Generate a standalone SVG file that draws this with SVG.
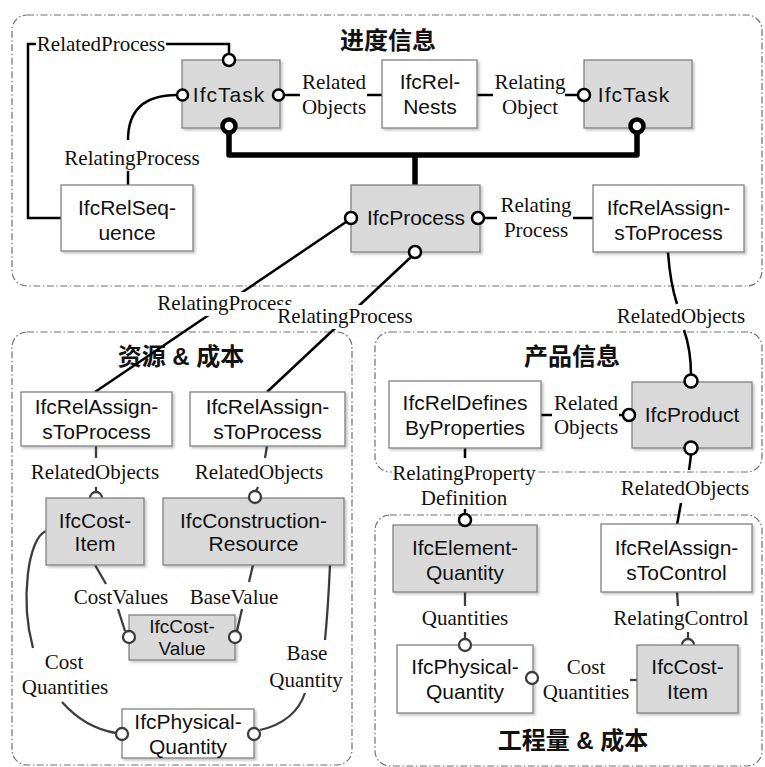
<svg xmlns="http://www.w3.org/2000/svg" width="765" height="767" viewBox="0 0 765 767">
<style>
.cont{fill:none;stroke:#6e6e6e;stroke-width:1.2;stroke-dasharray:7 2.5 1.5 2.5}
.g{fill:#d9d9d9;stroke:#808080;stroke-width:1.3;filter:url(#sh)}
.w{fill:#fff;stroke:#808080;stroke-width:1.3;filter:url(#sh)}
.t{font-family:"Liberation Sans",Arial,sans-serif;font-size:21px;text-anchor:middle;fill:#111}
.l{font-family:"Liberation Serif","Times New Roman",serif;font-size:21px;text-anchor:middle;fill:#111}
.h{font-family:"Liberation Sans","Noto Sans CJK SC",sans-serif;font-size:24px;font-weight:bold;text-anchor:middle;fill:#111}
.c{fill:none;stroke:#000;stroke-width:2.5}
.cg{fill:none;stroke:#3c3c3c;stroke-width:2.3}
.o{fill:#fff;stroke:#000;stroke-width:2.5}
.og{fill:#fff;stroke:#3c3c3c;stroke-width:2.3}
.ob{fill:#fff;stroke:#000;stroke-width:4.5}
.thick{fill:none;stroke:#000;stroke-width:5.5;stroke-linejoin:round}
</style>
<defs>
<filter id="sh" x="-10%" y="-10%" width="130%" height="130%">
<feDropShadow dx="2" dy="2" stdDeviation="1.2" flood-color="#000" flood-opacity="0.22"/>
</filter>
</defs>
<rect width="765" height="767" fill="#fff"/>

<g id="containers">
<rect class="cont" x="12" y="15" width="750" height="271" rx="15"/>
<rect class="cont" x="375" y="332" width="387" height="140" rx="15"/>
<rect class="cont" x="375" y="515" width="387" height="251" rx="15"/>
<rect class="cont" x="12" y="332" width="340" height="433" rx="15"/>
<text class="h" x="388" y="49">进度信息</text>
<text class="h" x="572" y="365">产品信息</text>
<text class="h" x="181" y="365">资源 &amp; 成本</text>
<text class="h" x="573" y="749">工程量 &amp; 成本</text>
</g>

<g id="connectors">
<path class="c" d="M229,54 V44 H166"/>
<path class="c" d="M36,44 H28 V218 H61"/>
<path class="c" d="M177,95 C146,95 128,108 128,140"/>
<path class="c" d="M128,171 V185"/>
<path class="c" d="M284,95 H300"/>
<path class="c" d="M367,95 H382"/>
<path class="c" d="M477,95 H493"/>
<path class="c" d="M565,95 H578"/>
<path class="thick" d="M229,133 V155 H637 V134"/>
<path class="thick" d="M415,155 V185"/>
<path class="c" d="M484,218 H497"/>
<path class="c" d="M573,218 H593"/>
<path class="c" d="M668,252 Q670,282 677,304"/>
<path class="c" d="M684,330 Q691,350 691,375"/>
<path class="c" d="M346,222 L95,392"/>
<path class="c" d="M411,257 L267,392"/>
<path class="c" d="M541,415 H552"/>
<path class="c" d="M619,415 H623"/>
<path class="c" d="M465,448 V458"/>
<path class="c" d="M465,509 V514"/>
<path class="c" d="M691,454 Q690,464 689,470"/>
<path class="c" d="M681,503 L677,525"/>
<path class="cg" d="M465,592 V606"/>
<path class="cg" d="M465,632 V639"/>
<path class="cg" d="M630,680 H637"/>
<path class="cg" d="M688,639 V632"/>
<path class="cg" d="M677,592 L678,606"/>
<path class="cg" d="M96,446 V458"/>
<path class="cg" d="M96,487 V492"/>
<path class="cg" d="M267,446 L265,458"/>
<path class="cg" d="M258,487 L256,491"/>
<path class="cg" d="M95,565 L106,584"/>
<path class="cg" d="M118,609 L125,631"/>
<path class="cg" d="M253,565 L249,582"/>
<path class="cg" d="M242,609 L237,631"/>
<path class="cg" d="M46,531 C28,538 20,600 33,648"/>
<path class="cg" d="M62,702 Q85,728 116,733"/>
<path class="cg" d="M330,565 Q328,610 325,640"/>
<path class="cg" d="M305,693 Q295,722 260,730"/>
<circle class="og" cx="96" cy="498" r="6"/>
<circle class="og" cx="688" cy="645" r="6"/>
<text class="l" x="101" y="51">RelatedProcess</text>
<text class="l" x="132" y="165">RelatingProcess</text>
<text class="l" x="334" y="89">Related</text>
<text class="l" x="334" y="114">Objects</text>
<text class="l" x="530" y="89">Relating</text>
<text class="l" x="530" y="114">Object</text>
<text class="l" x="536" y="212">Relating</text>
<text class="l" x="536" y="237">Process</text>
<text class="l" x="681" y="323">RelatedObjects</text>
<rect x="156" y="292" width="140" height="24" fill="#fff"/>
<text class="l" x="225" y="310">RelatingProcess</text>
<rect x="276" y="305" width="140" height="24" fill="#fff"/>
<text class="l" x="345" y="323">RelatingProcess</text>
<text class="l" x="586" y="410">Related</text>
<text class="l" x="586" y="434">Objects</text>
<rect x="392" y="462" width="146" height="20" fill="#fff"/>
<text class="l" x="464" y="480">RelatingProperty</text>
<text class="l" x="464" y="505">Definition</text>
<text class="l" x="685" y="495">RelatedObjects</text>
<text class="l" x="465" y="625">Quantities</text>
<text class="l" x="681" y="625">RelatingControl</text>
<text class="l" x="586" y="674">Cost</text>
<text class="l" x="586" y="699">Quantities</text>
<text class="l" x="95" y="479">RelatedObjects</text>
<text class="l" x="259" y="479">RelatedObjects</text>
<text class="l" x="121" y="604">CostValues</text>
<text class="l" x="234" y="604">BaseValue</text>
<text class="l" x="64" y="669">Cost</text>
<text class="l" x="65" y="694">Quantities</text>
<text class="l" x="307" y="660">Base</text>
<text class="l" x="306" y="687">Quantity</text>
</g>

<g id="IfcTask1"><rect class="g" x="182" y="60" width="98" height="68"/><text class="t" x="229" y="102" letter-spacing="1">IfcTask</text></g>
<g id="IfcRelNests"><rect class="w" x="382" y="60" width="95" height="68"/><text class="t" x="430" y="89">IfcRel-</text><text class="t" x="430" y="114">Nests</text></g>
<g id="IfcTask2"><rect class="g" x="584" y="60" width="108" height="68"/><text class="t" x="634" y="102" letter-spacing="1">IfcTask</text></g>
<g id="IfcRelSequence"><rect class="w" x="61" y="185" width="132" height="66"/><text class="t" x="127" y="214.5">IfcRelSeq-</text><text class="t" x="127" y="239.5">uence</text></g>
<g id="IfcProcess"><rect class="g" x="351" y="185" width="129" height="67"/><text class="t" x="416" y="225">IfcProcess</text></g>
<g id="IfcRelAssignsToProcess0"><rect class="w" x="593" y="185" width="151" height="67"/><text class="t" x="668.5" y="214.5">IfcRelAssign-</text><text class="t" x="668.5" y="239.5">sToProcess</text></g>
<g id="IfcRelDefinesByProperties"><rect class="w" x="389" y="381" width="152" height="67"/><text class="t" x="465" y="409.5">IfcRelDefines</text><text class="t" x="465" y="434.5">ByProperties</text></g>
<g id="IfcProduct"><rect class="g" x="632" y="382" width="120" height="66"/><text class="t" x="692" y="422">IfcProduct</text></g>
<g id="IfcElementQuantity"><rect class="g" x="393" y="525" width="144" height="67"/><text class="t" x="465" y="554.5">IfcElement-</text><text class="t" x="465" y="579.5">Quantity</text></g>
<g id="IfcRelAssignsToControl"><rect class="w" x="601" y="524" width="151" height="68"/><text class="t" x="676.5" y="554.5">IfcRelAssign-</text><text class="t" x="676.5" y="579.5">sToControl</text></g>
<g id="IfcPhysicalQuantity2"><rect class="w" x="397" y="645" width="136" height="68"/><text class="t" x="465" y="674">IfcPhysical-</text><text class="t" x="465" y="699">Quantity</text></g>
<g id="IfcCostItem2"><rect class="g" x="637" y="645" width="101" height="68"/><text class="t" x="687.5" y="674">IfcCost-</text><text class="t" x="687.5" y="699">Item</text></g>
<g id="IfcRelAssignsToProcess1"><rect class="w" x="21" y="392" width="151" height="54"/><text class="t" x="96.5" y="414">IfcRelAssign-</text><text class="t" x="96.5" y="439">sToProcess</text></g>
<g id="IfcRelAssignsToProcess2"><rect class="w" x="190" y="392" width="155" height="54"/><text class="t" x="267.5" y="414">IfcRelAssign-</text><text class="t" x="267.5" y="439">sToProcess</text></g>
<g id="IfcCostItem1"><rect class="g" x="46" y="498" width="98" height="67"/><text class="t" x="95" y="527.5">IfcCost-</text><text class="t" x="95" y="550.5">Item</text></g>
<g id="IfcConstructionResource"><rect class="g" x="163" y="498" width="181" height="67"/><text class="t" x="253.5" y="527.5">IfcConstruction-</text><text class="t" x="253.5" y="550.5">Resource</text></g>
<g id="IfcCostValue"><rect class="g" x="129" y="615" width="106" height="45"/><text class="t" x="182" y="633" style="font-size:19px">IfcCost-</text><text class="t" x="182" y="655" style="font-size:19px">Value</text></g>
<g id="IfcPhysicalQuantity1"><rect class="w" x="122" y="709" width="132" height="49"/><text class="t" x="188" y="729">IfcPhysical-</text><text class="t" x="188" y="754">Quantity</text></g>

<g id="connector-ends">
<circle class="o" cx="229" cy="60" r="6"/>
<circle class="o" cx="182.5" cy="95" r="5.5"/>
<circle class="o" cx="278.5" cy="95" r="5.5"/>
<circle class="o" cx="584" cy="95" r="6"/>
<circle class="ob" cx="229" cy="126" r="6.5"/>
<circle class="ob" cx="637" cy="126" r="6.5"/>
<circle class="o" cx="351" cy="218" r="6"/>
<circle class="o" cx="478" cy="218" r="6"/>
<circle class="o" cx="415" cy="252" r="6"/>
<circle class="o" cx="691" cy="381" r="6.5"/>
<circle class="o" cx="629" cy="415" r="6"/>
<circle class="o" cx="691" cy="448" r="6.5"/>
<circle class="o" cx="465" cy="520" r="6"/>
<circle class="og" cx="465" cy="645" r="6"/>
<circle class="og" cx="532" cy="678" r="6"/>
<circle class="og" cx="255" cy="497" r="6"/>
<circle class="og" cx="129" cy="637" r="6"/>
<circle class="og" cx="235" cy="637" r="6"/>
<circle class="og" cx="122" cy="734" r="6"/>
<circle class="og" cx="254" cy="734" r="6"/>
</g>
</svg>
